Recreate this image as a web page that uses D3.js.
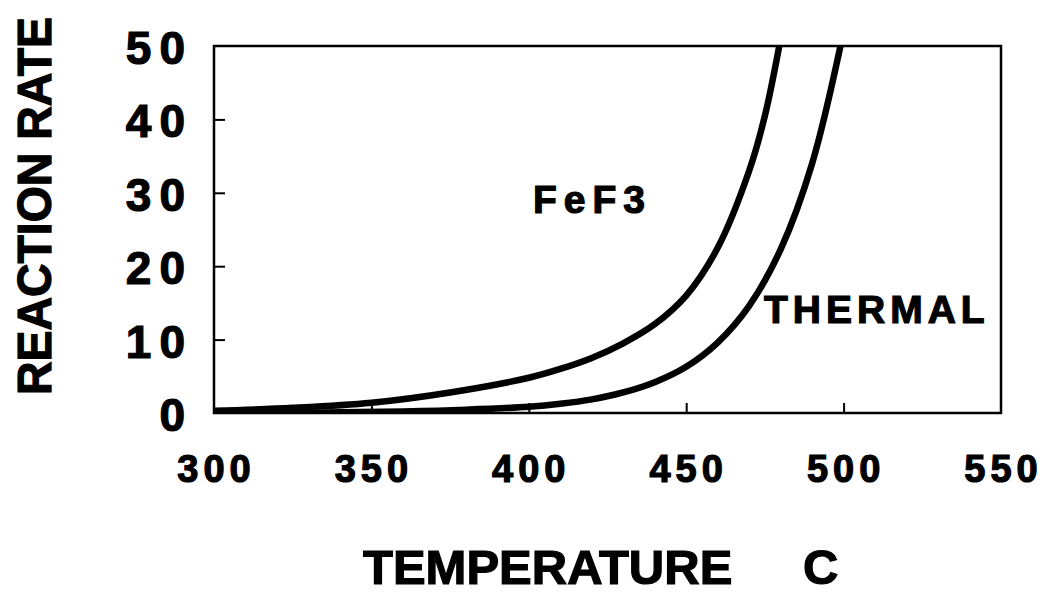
<!DOCTYPE html>
<html>
<head>
<meta charset="utf-8">
<script src="https://cdn.jsdelivr.net/npm/d3@7"></script>
<style>
  body { margin: 0; background: #fff; }
  text { font-family: "Liberation Sans", Arial, sans-serif; font-weight: bold; fill: #000; stroke: #000; stroke-width: 1.2px; }
</style>
</head>
<body>
<div id="chart"></div>
<script>
// data
const temps_fef3 = [300, 325, 350, 375, 400, 410, 420, 430, 440, 450, 460, 470, 475, 480]
const rate_fef3 = [0.3, 0.7, 1.4, 2.8, 4.8, 6.0, 7.5, 9.5, 12.1, 16.0, 22.5, 33.0, 40.5, 51]

const temps_thermal = [300, 320, 340, 360, 380, 400, 410, 420, 430, 440, 450, 460, 470, 480, 490, 500]
const rate_thermal = [0.02, 0.05, 0.1, 0.22, 0.45, 0.85, 1.25, 1.85, 2.8, 4.2, 6.3, 9.6, 14.6, 22.3, 34, 52]

const xTicks = [300, 350, 400, 450, 500, 550]
const yTicks = [0, 10, 20, 30, 40, 50]

const width = 1048
const height = 597
const margin = { top: 46, right: 47, bottom: 184, left: 214 }

const svg = d3.select("#chart")
  .append("svg")
  .attr("width", width)
  .attr("height", height)

const x = d3.scaleLinear()
  .domain([300, 550])
  .range([margin.left, width - margin.right])

const y = d3.scaleLinear()
  .domain([0, 50])
  .range([height - margin.bottom, margin.top])

// clip so curves stop at the frame
svg.append("clipPath")
  .attr("id", "plot-clip")
  .append("rect")
  .attr("x", margin.left)
  .attr("y", margin.top)
  .attr("width", x(550) - x(300))
  .attr("height", y(0) - y(50))

// inward ticks
svg.append("g")
  .attr("transform", `translate(0,${y(0)})`)
  .call(d3.axisBottom(x).tickValues(xTicks.slice(1, -1)).tickSizeInner(-10).tickSizeOuter(0).tickFormat(""))
  .call(g => g.select(".domain").remove())
  .call(g => g.selectAll("line").attr("stroke", "#000").attr("stroke-width", 2))

svg.append("g")
  .attr("transform", `translate(${margin.left},0)`)
  .call(d3.axisLeft(y).tickValues(yTicks.slice(1, -1)).tickSizeInner(-11).tickSizeOuter(0).tickFormat(""))
  .call(g => g.select(".domain").remove())
  .call(g => g.selectAll("line").attr("stroke", "#000").attr("stroke-width", 2))

// curves
const line = d3.line()
  .x(d => x(d[0]))
  .y(d => y(d[1]))
  .curve(d3.curveCatmullRom.alpha(0.5))

const series = [
  d3.zip(temps_fef3, rate_fef3),
  d3.zip(temps_thermal, rate_thermal)
]

svg.append("g")
  .attr("clip-path", "url(#plot-clip)")
  .selectAll("path")
  .data(series)
  .join("path")
  .attr("d", line)
  .attr("fill", "none")
  .attr("stroke", "#000")
  .attr("stroke-width", 6.5)
  .attr("stroke-linecap", "round")

// frame
svg.append("rect")
  .attr("x", x(300))
  .attr("y", y(50))
  .attr("width", x(550) - x(300))
  .attr("height", y(0) - y(50))
  .attr("fill", "none")
  .attr("stroke", "#000")
  .attr("stroke-width", 2.5)

// tick labels
svg.append("g")
  .selectAll("text")
  .data(yTicks)
  .join("text")
  .attr("x", 193)
  .attr("y", d => y(d) + 18)
  .attr("text-anchor", "end")
  .style("font-size", "46px")
  .style("letter-spacing", "8px")
  .text(d => d)

svg.append("g")
  .selectAll("text")
  .data(xTicks)
  .join("text")
  .attr("x", d => x(d) + 2.5)
  .attr("y", y(0) + 69)
  .attr("text-anchor", "middle")
  .style("font-size", "38px")
  .style("letter-spacing", "5px")
  .text(d => d)

// series labels
svg.append("text")
  .attr("x", 533)
  .attr("y", 213)
  .style("font-size", "39px")
  .style("letter-spacing", "7px")
  .text("FeF3")

svg.append("text")
  .attr("x", 764)
  .attr("y", 323)
  .style("font-size", "39px")
  .style("letter-spacing", "5px")
  .text("THERMAL")

// axis titles
svg.append("text")
  .attr("x", 363)
  .attr("y", 584)
  .style("font-size", "49px")
  .text("TEMPERATURE")

svg.append("text")
  .attr("x", 803)
  .attr("y", 584)
  .style("font-size", "49px")
  .text("C")

svg.append("text")
  .attr("transform", "translate(51,206) rotate(-90)")
  .attr("text-anchor", "middle")
  .attr("textLength", 378)
  .attr("lengthAdjust", "spacingAndGlyphs")
  .style("font-size", "48px")
  .text("REACTION RATE")
</script>
</body>
</html>
